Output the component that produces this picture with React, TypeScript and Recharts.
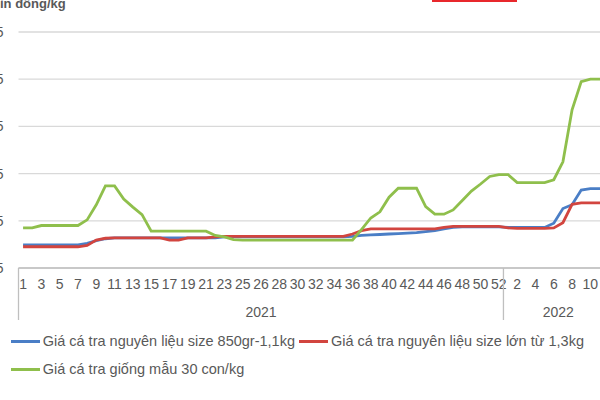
import React from "react";
import { LineChart, Line, XAxis, YAxis, CartesianGrid, Legend } from "recharts";

// ---- data ----
const weekLabels = [
  "1","2","3","4","5","6","7","8","9","10","11","12","13","14","15","16","17","18","19","20",
  "21","22","23","24","25","25","26","27","28","29","30","31","32","33","34","35","36","37","38","39",
  "40","41","42","43","44","45","46","47","48","49","50","51","52",
  "1","2","3","4","5","6","7","8","9","10","11","12",
];
const yearLabels = [
  "2021","2021","2021","2021","2021","2021","2021","2021","2021","2021","2021","2021","2021","2021","2021","2021","2021","2021","2021","2021",
  "2021","2021","2021","2021","2021","2021","2021","2021","2021","2021","2021","2021","2021","2021","2021","2021","2021","2021","2021","2021",
  "2021","2021","2021","2021","2021","2021","2021","2021","2021","2021","2021","2021","2021",
  "2022","2022","2022","2022","2022","2022","2022","2022","2022","2022","2022","2022",
];
const blueSeries = [
  19.9,19.9,19.9,19.9,19.9,19.9,19.9,20.2,20.8,21.2,21.4,21.4,21.4,21.4,21.4,21.4,21.4,21.4,21.4,21.4,
  21.4,21.4,21.6,21.6,21.6,21.6,21.6,21.6,21.6,21.6,21.6,21.6,21.6,21.6,21.6,21.6,21.7,21.9,22.0,22.1,
  22.2,22.3,22.4,22.5,22.7,22.9,23.3,23.6,23.7,23.7,23.7,23.7,23.7,
  23.6,23.6,23.6,23.6,23.6,24.5,27.6,28.4,31.5,31.8,31.8,31.8,
];
const redSeries = [
  19.5,19.5,19.5,19.5,19.5,19.5,19.5,19.8,20.9,21.3,21.4,21.4,21.4,21.4,21.4,21.4,20.9,20.9,21.4,21.4,
  21.4,21.6,21.7,21.7,21.7,21.7,21.7,21.7,21.7,21.7,21.7,21.7,21.7,21.7,21.7,21.7,22.2,22.9,23.3,23.3,
  23.3,23.3,23.3,23.3,23.3,23.3,23.6,23.8,23.8,23.8,23.8,23.8,23.8,
  23.5,23.4,23.4,23.4,23.4,23.5,24.6,28.5,28.8,28.8,28.8,28.8,
];
const greenSeries = [
  23.5,23.5,24.0,24.0,24.0,24.0,24.0,25.2,28.4,32.4,32.4,29.6,27.9,26.3,22.8,22.8,22.8,22.8,22.8,22.8,
  22.8,21.9,21.6,21.0,20.9,20.9,20.9,20.9,20.9,20.9,20.9,20.9,20.9,20.9,20.9,20.9,20.9,23.2,25.6,26.9,
  30.0,31.9,31.9,31.9,28.0,26.4,26.4,27.3,29.3,31.3,32.8,34.4,34.8,
  34.8,33.1,33.1,33.1,33.1,33.7,37.5,48.5,54.5,55,55,55,
];
const seriesNames = [
  "Giá cá tra nguyên liệu size 850gr-1,1kg",
  "Giá cá tra nguyên liệu size lớn từ 1,3kg",
  "Giá cá tra giống mẫu 30 con/kg",
];
const yTicks = [15, 25, 35, 45, 55, 65];
const unitLabel = "Nghìn đồng/kg";

const data = weekLabels.map((w, i) => ({
  idx: i,
  week: w,
  year: yearLabels[i],
  blue: blueSeries[i],
  red: redSeries[i],
  green: greenSeries[i],
}));

// ---- layout ----
const CHART_W = 650;
const CHART_H = 400;
const OFFSET_X = -30;
const Y_AXIS_W = 48.5;
const M = { top: 32, right: 6.75, left: 0, bottom: 72 };
const PLOT_W = CHART_W - Y_AXIS_W - M.left - M.right;
const BAND = PLOT_W / data.length;
const X1_H = 30;
const X2_H = 30;
const TICK_SIZE = 6;
const X2_MARGIN = 3;
const FONT = "'Liberation Sans', Arial, sans-serif";
const TEXT_COLOR = "#595959";
const COLORS = ["#4a7ec6", "#d2453f", "#8fbf4c"];

const groupInfo = (() => {
  const first: Record<string, number> = {};
  const last: Record<string, number> = {};
  yearLabels.forEach((y, i) => {
    if (first[y] === undefined) first[y] = i;
    last[y] = i;
  });
  return { first, last };
})();

const YearTick = (props: any) => {
  const { x, y, payload } = props;
  const index = payload ? Number(payload.value) : 0;
  const yr = yearLabels[index];
  if (yr === undefined) return null;
  const s = groupInfo.first[yr];
  const e = groupInfo.last[yr];
  const count = e - s + 1;
  const mid = s + Math.floor((count - 1) / 2);
  const top = y - X1_H - TICK_SIZE - X2_MARGIN;
  return (
    <g>
      {index === s && (
        <line x1={x - BAND / 2} x2={x - BAND / 2} y1={top} y2={y + 13} stroke="#bfbfbf" strokeWidth={1.3} />
      )}
      {index === mid && (
        <text
          x={x + (count % 2 === 0 ? BAND / 2 : 0)}
          y={y}
          dy="0.71em"
          textAnchor="middle"
          fontSize={14}
          fill={TEXT_COLOR}
          fontFamily={FONT}
        >
          {yr}
        </text>
      )}
    </g>
  );
};

const renderLegend = () => {
  return (
    <div style={{ display: "flex", flexWrap: "wrap", width: 590, fontFamily: FONT }}>
      {seriesNames.map((name, i) => (
        <div key={name} style={{ display: "flex", alignItems: "center", height: 28, marginRight: 4 }}>
          <span style={{ display: "inline-block", width: 29, height: 3, background: COLORS[i] }} />
          <span style={{ marginLeft: 3, fontSize: 14.5, color: TEXT_COLOR, whiteSpace: "nowrap" }}>{name}</span>
        </div>
      ))}
    </div>
  );
};

export default function App() {
  return (
    <div
      style={{
        position: "absolute",
        left: 0,
        top: 0,
        width: 600,
        height: 400,
        overflow: "hidden",
        background: "#ffffff",
        fontFamily: FONT,
      }}
    >
      <div
        style={{
          position: "absolute",
          left: -25.3,
          top: -2.8,
          fontSize: 13,
          lineHeight: "13px",
          fontWeight: "bold",
          color: TEXT_COLOR,
          whiteSpace: "nowrap",
        }}
      >
        {unitLabel}
      </div>
      <div style={{ position: "absolute", left: 432, top: -1, width: 85, height: 3, background: "#e8282c" }} />
      <div style={{ position: "absolute", left: OFFSET_X, top: 0 }}>
        <LineChart width={CHART_W} height={CHART_H} data={data} margin={M}>
          <CartesianGrid horizontal vertical={false} stroke="#d9d9d9" strokeWidth={1.3} />
          <XAxis
            dataKey="idx"
            type="category"
            padding={{ left: BAND / 2, right: BAND / 2 }}
            interval={1}
            height={X1_H}
            tickLine={false}
            tickSize={TICK_SIZE}
            tickMargin={5.5}
            tickFormatter={(v: any) => weekLabels[Number(v)]}
            axisLine={{ stroke: "#bfbfbf", strokeWidth: 1.3 }}
            tick={{ fontSize: 14, fill: TEXT_COLOR, fontFamily: FONT }}
          />
          <XAxis
            xAxisId="year"
            dataKey="idx"
            type="category"
            padding={{ left: BAND / 2, right: BAND / 2 }}
            interval={0}
            height={X2_H}
            tickLine={false}
            axisLine={false}
            tickSize={TICK_SIZE}
            tickMargin={X2_MARGIN}
            tick={<YearTick />}
          />
          <YAxis
            width={Y_AXIS_W}
            domain={[15, 65]}
            ticks={yTicks}
            type="number"
            axisLine={false}
            tickLine={false}
            tickSize={TICK_SIZE}
            tickMargin={9}
            tick={{ fontSize: 14, fill: TEXT_COLOR, fontFamily: FONT }}
          />
          <Legend
            layout="horizontal"
            verticalAlign="middle"
            align="center"
            content={renderLegend}
            wrapperStyle={{ left: 40.7, top: 327, width: 600, height: 60 }}
          />
          <Line
            type="linear"
            dataKey="blue"
            name={seriesNames[0]}
            stroke={COLORS[0]}
            strokeWidth={2.8}
            dot={false}
            activeDot={false}
            isAnimationActive={false}
          />
          <Line
            type="linear"
            dataKey="red"
            name={seriesNames[1]}
            stroke={COLORS[1]}
            strokeWidth={2.8}
            dot={false}
            activeDot={false}
            isAnimationActive={false}
          />
          <Line
            type="linear"
            dataKey="green"
            name={seriesNames[2]}
            stroke={COLORS[2]}
            strokeWidth={2.8}
            dot={false}
            activeDot={false}
            isAnimationActive={false}
          />
        </LineChart>
      </div>
    </div>
  );
}
